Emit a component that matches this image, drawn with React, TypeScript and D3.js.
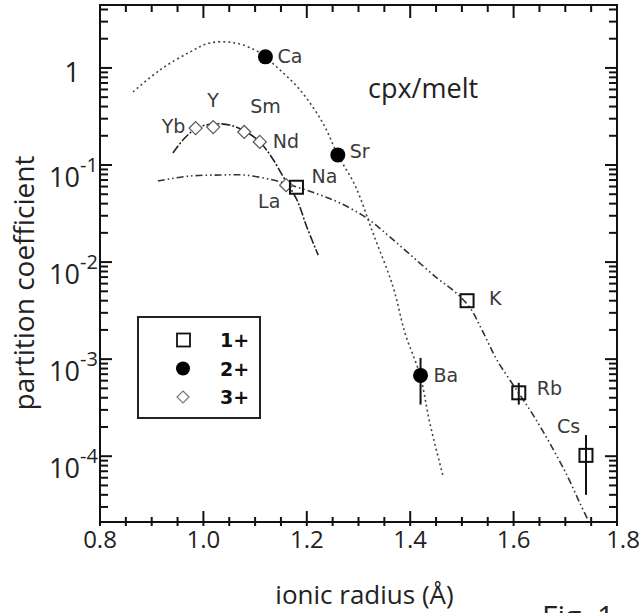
import React from "react";
import * as d3 from "d3";

// monovalent cations (open squares)
const ions1 = [
  { el: "Na", r: 1.18, d: 0.059 },
  { el: "K", r: 1.51, d: 0.004 },
  { el: "Rb", r: 1.61, d: 4.5e-4, lo: 3.4e-4, hi: 5.7e-4 },
  { el: "Cs", r: 1.74, d: 1.02e-4, lo: 4.0e-5, hi: 1.65e-4 },
];

// divalent cations (filled circles)
const ions2 = [
  { el: "Ca", r: 1.12, d: 1.3 },
  { el: "Sr", r: 1.26, d: 0.127 },
  { el: "Ba", r: 1.42, d: 6.8e-4, lo: 3.4e-4, hi: 1.03e-3 },
];

// trivalent cations (open diamonds)
const ions3 = [
  { el: "Yb", r: 0.985, d: 0.24 },
  { el: "Y", r: 1.019, d: 0.246 },
  { el: "Sm", r: 1.079, d: 0.219 },
  { el: "Nd", r: 1.109, d: 0.173 },
  { el: "La", r: 1.16, d: 0.062 },
];

// lattice strain fit curves: [radius, D]
const fit1 = [
  [0.912, 0.0684], [0.974, 0.077], [1.032, 0.0788], [1.08, 0.0788], [1.135, 0.07],
  [1.181, 0.0593], [1.226, 0.0491], [1.264, 0.0406], [1.316, 0.0284], [1.361, 0.0181],
  [1.405, 0.0113], [1.452, 0.00684], [1.487, 0.00491], [1.516, 0.00336], [1.539, 0.00199],
  [1.568, 0.000977], [1.61, 0.000446], [1.638, 0.000265], [1.67, 0.000136],
  [1.703, 6.4e-5], [1.728, 3.3e-5], [1.744, 2.2e-5],
];
const fit2 = [
  [0.864, 0.566], [0.916, 0.954], [0.974, 1.46], [1.013, 1.81], [1.061, 1.81],
  [1.1, 1.53], [1.119, 1.3], [1.148, 0.954], [1.187, 0.593], [1.231, 0.271],
  [1.26, 0.127], [1.293, 0.0622], [1.328, 0.0199], [1.367, 0.00552], [1.39, 0.00185],
  [1.419, 0.000684], [1.438, 0.000219], [1.463, 6.4e-5],
];
const fit3 = [
  [0.941, 0.133], [0.964, 0.19], [0.988, 0.241], [1.019, 0.265], [1.051, 0.258],
  [1.08, 0.224], [1.109, 0.173], [1.133, 0.118], [1.158, 0.07], [1.181, 0.0436],
  [1.2, 0.023], [1.222, 0.0118],
];

const xTicks = [0.8, 1.0, 1.2, 1.4, 1.6, 1.8];
const xTickLabels = ["0.8", "1.0", "1.2", "1.4", "1.6", "1.8"];
const yMajor = [1, 0.1, 0.01, 0.001, 0.0001];
const yExponents = ["", "-1", "-2", "-3", "-4"];

const legendItems = [
  { label: "1+", shape: "square" },
  { label: "2+", shape: "circle" },
  { label: "3+", shape: "diamond" },
];

// label offsets from the marker, in px
const labelOffset: Record<string, [number, number]> = {
  Na: [15, -4], K: [22, 4], Rb: [18, 2], Cs: [-29, -22],
  Ca: [12, 6], Sr: [12, 3], Ba: [13, 7],
  Yb: [-34, 5], Y: [-6, -20], Sm: [6, -19], Nd: [13, 6], La: [-28, 23],
};

const W = 639;
const H = 613;
const left = 100, right = 617, top = 5, bottom = 522;

const x = d3.scaleLinear().domain([0.8, 1.8]).range([left, right]);
const y = d3.scaleLog().domain([2.1e-5, 4.45]).range([bottom, top]);

const line = d3
  .line<number[]>()
  .x((d) => x(d[0]))
  .y((d) => y(d[1]))
  .curve(d3.curveCatmullRom);

const tickFont = "'Open Sans', 'DejaVu Sans', sans-serif";
const labelFont = "'DejaVu Sans', sans-serif";

const App = () => {
  const xMinor = d3.range(0.8, 1.8001, 0.05);
  const yMinor = y.ticks().filter((v) => v >= 2.1e-5 && v <= 4.45);
  const isMajorY = (v: number) => Math.abs(Math.log10(v) - Math.round(Math.log10(v))) < 1e-6;
  const isMajorX = (v: number) => xTicks.some((t) => Math.abs(t - v) < 1e-6);

  const diamond = (cx: number, cy: number, s: number) =>
    `M${cx},${cy - s}L${cx + s},${cy}L${cx},${cy + s}L${cx - s},${cy}Z`;

  return (
    <svg width={W} height={H} style={{ position: "absolute", left: 0, top: 0, background: "#fff" }}>
      {/* fit curves */}
      <path d={line(fit2) || ""} fill="none" stroke="#444" strokeWidth={1.6} strokeDasharray="2,3" />
      <path d={line(fit3) || ""} fill="none" stroke="#222" strokeWidth={1.6} strokeDasharray="9,2,2,2" />
      <path d={line(fit1) || ""} fill="none" stroke="#333" strokeWidth={1.6} strokeDasharray="7,3,1.5,3,1.5,3" />

      {/* frame */}
      <rect x={left} y={top} width={right - left} height={bottom - top} fill="none" stroke="#111" strokeWidth={2} />

      {/* x ticks */}
      {xMinor.map((v, i) => {
        const big = isMajorX(v);
        return (
          <g key={"xt" + i} stroke="#111" strokeWidth={2}>
            <line x1={x(v)} x2={x(v)} y1={bottom + 4} y2={bottom - (big ? 11 : 5)} />
            <line x1={x(v)} x2={x(v)} y1={top} y2={top + (big ? 13 : 7)} />
          </g>
        );
      })}
      {/* y ticks */}
      {yMinor.map((v, i) => {
        const big = isMajorY(v);
        return (
          <g key={"yt" + i} stroke="#111" strokeWidth={2}>
            <line x1={left} x2={left + (big ? 12 : 8)} y1={y(v)} y2={y(v)} />
            <line x1={right} x2={right - (big ? 12 : 8)} y1={y(v)} y2={y(v)} />
          </g>
        );
      })}

      {/* x tick labels */}
      {xTicks.map((v, i) => (
        <text key={"xl" + i} x={x(v) + (i === 5 ? 6 : 0)} y={bottom + 26} textAnchor="middle"
          fontFamily={tickFont} fontSize={24} fill="#222">
          {xTickLabels[i]}
        </text>
      ))}
      {/* y tick labels */}
      {yMajor.map((v, i) =>
        i === 0 ? (
          <text key={"yl" + i} x={80} y={y(v) + 14} textAnchor="end" fontFamily={tickFont} fontSize={27} fill="#222">
            1
          </text>
        ) : (
          <g key={"yl" + i} fontFamily={tickFont} fill="#222">
            <text x={80} y={y(v) + 22} textAnchor="end" fontSize={27}>10</text>
            <text x={80} y={y(v) + 7} textAnchor="start" fontSize={20}>{yExponents[i]}</text>
          </g>
        )
      )}

      {/* axis titles */}
      <text x={(left + right) / 2 + 6} y={604} textAnchor="middle" fontFamily={tickFont} fontSize={26} fill="#222">
        ionic radius (Å)
      </text>
      <text transform="translate(34,283) rotate(-90)" textAnchor="middle" fontFamily={tickFont} fontSize={28} fill="#222">
        partition coefficient
      </text>
      <text x={368} y={98} fontFamily={tickFont} fontSize={27} fill="#222">cpx/melt</text>
      <text x={542} y={627} fontFamily={tickFont} fontSize={30} fill="#222">Fig. 1</text>

      {/* 3+ diamonds */}
      {ions3.map((p) => (
        <path key={p.el} d={diamond(x(p.r), y(p.d), 6.5)} fill="#fff" stroke="#555" strokeWidth={1.2} />
      ))}
      {/* error bars */}
      {[...ions1, ...ions2].filter((p: any) => p.lo).map((p: any) => (
        <line key={"eb" + p.el} x1={x(p.r)} x2={x(p.r)} y1={y(p.hi)} y2={y(p.lo)} stroke="#111" strokeWidth={2} />
      ))}
      {/* 2+ circles */}
      {ions2.map((p) => (
        <circle key={p.el} cx={x(p.r)} cy={y(p.d)} r={7.5} fill="#000" />
      ))}
      {/* 1+ squares */}
      {ions1.map((p) => (
        <rect key={p.el} x={x(p.r) - 6.5} y={y(p.d) - 6.5} width={13} height={13} fill="none" stroke="#111" strokeWidth={2} />
      ))}

      {/* element labels */}
      {[...ions1, ...ions2, ...ions3].map((p) => (
        <text key={"lb" + p.el} x={x(p.r) + labelOffset[p.el][0]} y={y(p.d) + labelOffset[p.el][1]}
          fontFamily={labelFont} fontSize={19} fill="#3a3a3a">
          {p.el}
        </text>
      ))}

      {/* legend */}
      <rect x={138} y={317} width={122} height={101} fill="#fff" stroke="#222" strokeWidth={2} />
      {legendItems.map((it, i) => {
        const cy = 340 + i * 28.5;
        return (
          <g key={it.label}>
            {it.shape === "square" && <rect x={177} y={cy - 6.5} width={13} height={13} fill="none" stroke="#111" strokeWidth={1.8} />}
            {it.shape === "circle" && <circle cx={183} cy={cy} r={7} fill="#000" />}
            {it.shape === "diamond" && <path d={diamond(183, cy, 6)} fill="#fff" stroke="#777" strokeWidth={1.2} />}
            <text x={220} y={cy + 7} fontFamily={labelFont} fontWeight="bold" fontSize={19} fill="#111">
              {it.label}
            </text>
          </g>
        );
      })}
    </svg>
  );
};

export default App;
